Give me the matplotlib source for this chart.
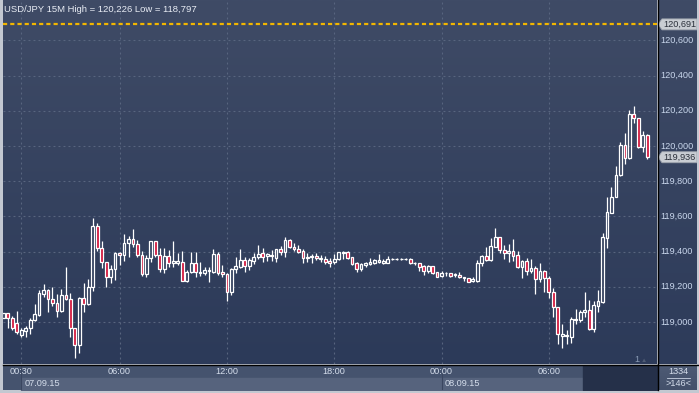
import numpy as np
import matplotlib
matplotlib.use("Agg")
import matplotlib.pyplot as plt
from matplotlib.colors import LinearSegmentedColormap
from matplotlib.lines import Line2D
from matplotlib.patches import Polygon

# ---------------------------------------------------------
# DATA  (USD/JPY, 15 minute candles, 07.09.15 - 08.09.15)
# ---------------------------------------------------------

opens = [
    119.021, 119.049, 119.021, 118.992, 118.926, 118.951, 118.964, 119.011, 119.040, 119.159,
    119.182, 119.129, 119.106, 119.064, 119.153, 119.131, 118.964, 118.869, 119.134, 119.100,
    119.197, 119.545, 119.422, 119.343, 119.254, 119.299, 119.390, 119.381, 119.447, 119.471,
    119.441, 119.381, 119.273, 119.362, 119.460, 119.381, 119.299, 119.375, 119.333, 119.337,
    119.341, 119.235, 119.282, 119.333, 119.276, 119.276, 119.290, 119.286, 119.386, 119.282,
    119.271, 119.172, 119.299, 119.314, 119.352, 119.320, 119.348, 119.367, 119.390, 119.375,
    119.375, 119.365, 119.415, 119.396, 119.466, 119.428, 119.415, 119.403, 119.362, 119.367,
    119.375, 119.356, 119.358, 119.348, 119.339, 119.358, 119.394, 119.396, 119.367, 119.337,
    119.301, 119.324, 119.329, 119.337, 119.343, 119.337, 119.337, 119.358, 119.358, 119.358,
    119.358, 119.358, 119.333, 119.333, 119.318, 119.292, 119.318, 119.286, 119.261, 119.276,
    119.276, 119.267, 119.267, 119.248, 119.248, 119.233, 119.233, 119.333, 119.375, 119.352,
    119.428, 119.485, 119.409, 119.394, 119.403, 119.381, 119.311, 119.347, 119.290, 119.305,
    119.242, 119.290, 119.248, 119.169, 119.083, 118.922, 118.920, 118.917, 119.011, 119.011,
    119.055, 119.068, 118.958, 119.093, 119.116, 119.479, 119.621, 119.712, 119.835, 120.006,
    119.930, 120.182, 120.157, 119.992, 120.062,
]

highs = [
    119.049, 119.049, 119.034, 119.062, 118.968, 118.977, 119.021, 119.102, 119.182, 119.216,
    119.185, 119.197, 119.157, 119.187, 119.314, 119.166, 118.964, 119.144, 119.223, 119.244,
    119.589, 119.564, 119.462, 119.343, 119.324, 119.399, 119.399, 119.500, 119.488, 119.528,
    119.466, 119.405, 119.381, 119.460, 119.460, 119.418, 119.418, 119.409, 119.462, 119.390,
    119.403, 119.295, 119.396, 119.396, 119.339, 119.314, 119.314, 119.413, 119.400, 119.324,
    119.276, 119.305, 119.367, 119.415, 119.367, 119.365, 119.390, 119.438, 119.422, 119.394,
    119.409, 119.415, 119.432, 119.481, 119.472, 119.447, 119.438, 119.413, 119.394, 119.386,
    119.390, 119.381, 119.377, 119.362, 119.386, 119.400, 119.403, 119.405, 119.367, 119.343,
    119.333, 119.343, 119.362, 119.358, 119.386, 119.356, 119.375, 119.362, 119.365, 119.362,
    119.362, 119.362, 119.343, 119.337, 119.324, 119.324, 119.318, 119.286, 119.292, 119.286,
    119.280, 119.280, 119.282, 119.254, 119.248, 119.258, 119.352, 119.381, 119.424, 119.475,
    119.532, 119.485, 119.438, 119.443, 119.472, 119.403, 119.352, 119.362, 119.358, 119.318,
    119.337, 119.295, 119.261, 119.191, 119.083, 118.989, 118.955, 119.030, 119.074, 119.068,
    119.172, 119.125, 119.119, 119.182, 119.504, 119.712, 119.769, 119.886, 120.021, 120.076,
    120.204, 120.226, 120.157, 120.087, 120.068,
]

lows = [
    119.021, 118.968, 118.954, 118.932, 118.913, 118.916, 118.932, 119.007, 119.034, 119.144,
    119.055, 119.091, 119.030, 119.059, 119.125, 118.916, 118.797, 118.822, 119.055, 119.096,
    119.178, 119.405, 119.305, 119.201, 119.223, 119.238, 119.324, 119.348, 119.371, 119.428,
    119.367, 119.261, 119.254, 119.343, 119.371, 119.286, 119.280, 119.314, 119.314, 119.324,
    119.235, 119.227, 119.276, 119.254, 119.261, 119.267, 119.229, 119.280, 119.267, 119.254,
    119.121, 119.153, 119.276, 119.309, 119.286, 119.295, 119.329, 119.356, 119.339, 119.348,
    119.347, 119.343, 119.381, 119.371, 119.418, 119.405, 119.394, 119.333, 119.343, 119.337,
    119.352, 119.343, 119.328, 119.314, 119.329, 119.352, 119.358, 119.358, 119.324, 119.286,
    119.292, 119.314, 119.324, 119.328, 119.333, 119.328, 119.333, 119.352, 119.352, 119.352,
    119.352, 119.329, 119.324, 119.292, 119.267, 119.280, 119.273, 119.254, 119.254, 119.261,
    119.258, 119.258, 119.248, 119.233, 119.229, 119.225, 119.229, 119.320, 119.348, 119.348,
    119.424, 119.394, 119.358, 119.339, 119.348, 119.305, 119.248, 119.267, 119.277, 119.157,
    119.229, 119.172, 119.134, 119.030, 118.873, 118.850, 118.875, 118.879, 118.987, 118.998,
    119.027, 118.955, 118.941, 119.059, 119.110, 119.419, 119.617, 119.708, 119.831, 119.898,
    119.926, 120.132, 119.987, 119.968, 119.924,
]

closes = [
    119.049, 119.021, 118.968, 118.945, 118.954, 118.968, 119.011, 119.043, 119.163, 119.182,
    119.129, 119.106, 119.064, 119.153, 119.131, 118.964, 118.869, 119.134, 119.100, 119.197,
    119.545, 119.422, 119.343, 119.254, 119.299, 119.390, 119.379, 119.447, 119.471, 119.441,
    119.381, 119.273, 119.362, 119.460, 119.381, 119.299, 119.375, 119.333, 119.346, 119.346,
    119.235, 119.282, 119.333, 119.282, 119.286, 119.295, 119.295, 119.386, 119.280, 119.271,
    119.172, 119.299, 119.318, 119.352, 119.320, 119.352, 119.371, 119.386, 119.367, 119.386,
    119.381, 119.415, 119.396, 119.466, 119.428, 119.413, 119.400, 119.362, 119.371, 119.375,
    119.362, 119.365, 119.339, 119.337, 119.358, 119.396, 119.400, 119.365, 119.329, 119.301,
    119.329, 119.337, 119.343, 119.352, 119.352, 119.348, 119.358, 119.358, 119.358, 119.358,
    119.356, 119.333, 119.337, 119.314, 119.292, 119.318, 119.280, 119.258, 119.280, 119.280,
    119.263, 119.273, 119.254, 119.254, 119.229, 119.242, 119.337, 119.375, 119.352, 119.432,
    119.485, 119.409, 119.394, 119.403, 119.375, 119.310, 119.347, 119.290, 119.305, 119.242,
    119.290, 119.248, 119.169, 119.083, 118.930, 118.932, 118.926, 119.015, 119.017, 119.059,
    119.068, 118.958, 119.097, 119.119, 119.481, 119.623, 119.712, 119.835, 120.006, 119.930,
    120.182, 120.157, 119.992, 120.062, 119.936,
]

price_levels = [119.0, 119.2, 119.4, 119.6, 119.8, 120.0, 120.2, 120.4, 120.6]
price_labels = ["119,000", "119,200", "119,400", "119,600", "119,800",
                "120,000", "120,200", "120,400", "120,600"]

# bar number of each time label (bar 1 = 23:30 on 06.09)
time_idx = [5, 27, 51, 75, 99, 123]
time_labels = ["00:30", "06:00", "12:00", "18:00", "00:00", "06:00"]

date_idx = [5, 99]
date_labels = ["07.09.15", "08.09.15"]

level_line = 120.691
last_price = 119.936
title = "USD/JPY 15M High = 120,226 Low = 118,797"

# ---------------------------------------------------------
# LAYOUT HELPERS
# ---------------------------------------------------------

plt.rcParams["font.family"] = ["Liberation Sans", "DejaVu Sans"]
plt.rcParams["lines.scale_dashes"] = False

W, H = 699, 393


def box(x0, y0, x1, y1):
    return [x0 / W, 1 - y1 / H, (x1 - x0) / W, (y1 - y0) / H]


def gradient(ax, top, bottom):
    cmap = LinearSegmentedColormap.from_list("bg", [bottom, top])
    ax.imshow(
        np.linspace(0, 1, 256).reshape(-1, 1),
        cmap=cmap,
        origin="lower",
        aspect="auto",
        extent=(0, 1, 0, 1),
        transform=ax.transAxes,
        zorder=0,
    )


fig = plt.figure(figsize=(W / 100, H / 100), dpi=100, facecolor="#c3c8d1")

x = np.arange(1, len(opens) + 1)
o = np.array(opens)
h = np.array(highs)
l = np.array(lows)
c = np.array(closes)

XLIM = (0.933, 147.18)
YLIM = (118.761, 120.8295)

# ---------------------------------------------------------
# MAIN PLOT
# ---------------------------------------------------------

ax = fig.add_axes(box(3, 0, 657, 364))
ax.set_axis_off()
gradient(ax, "#3f4b66", "#2c3a59")

grid_kw = dict(color="#58657f", lw=0.8, dashes=(1.4, 2.2), zorder=1)
for v in price_levels:
    ax.axhline(v, **grid_kw)
for k in time_idx:
    ax.axvline(k, **grid_kw)

ax.axhline(level_line, color="#f2b600", lw=1.6, dashes=(3, 2.2), zorder=2)

top = np.maximum(o, c)
bot = np.minimum(o, c)
up = c >= o

ax.vlines(x, top, h, color="white", lw=0.9, zorder=3)
ax.vlines(x, l, bot, color="white", lw=0.9, zorder=3)
ax.bar(
    x,
    top - bot,
    bottom=bot,
    width=0.62,
    color=["none" if u else "#d2143a" for u in up],
    edgecolor="white",
    linewidth=0.9,
    zorder=4,
)

ax.set_xlim(*XLIM)
ax.set_ylim(*YLIM)

fig.text(4 / W, 1 - 9 / H, title, fontsize=6.8, color="#e8ecf4", va="center")

fig.text(637 / W, 1 - 359.5 / H, "1", fontsize=6.6, color="#8a9ab4",
         ha="center", va="center")
fig.text(644 / W, 1 - 360 / H, "\u25b2", fontsize=4.5, color="#4f5b74",
         ha="center", va="center")

# ---------------------------------------------------------
# RIGHT PRICE SCALE
# ---------------------------------------------------------

axr = fig.add_axes(box(658, 0, 697, 364))
axr.set_axis_off()
gradient(axr, "#3f4b66", "#2d3b5a")
axr.set_xlim(658, 697)
axr.set_ylim(*YLIM)

for v, s in zip(price_levels, price_labels):
    axr.text(660, v, s, fontsize=6.6, color="#c9d6ec", va="center", ha="left")

half = 5.5 / 176
for v in [level_line, last_price]:
    axr.add_patch(Polygon(
        [(658, v), (662, v + half), (697, v + half), (697, v - half), (662, v - half)],
        closed=True, facecolor="#c9cdd3", edgecolor="#9ca2ac", lw=0.6, zorder=3,
    ))
    axr.text(663, v, f"{v:.3f}".replace(".", ","), fontsize=6.6,
             color="#2a2f3a", va="center", ha="left", zorder=4)

# ---------------------------------------------------------
# TIME AXIS
# ---------------------------------------------------------

axb = fig.add_axes(box(3, 365, 657, 390))
axb.set_axis_off()
axb.set_xlim(*XLIM)
axb.set_ylim(0, 25)

dark_start = 130.6
axb.axhspan(12, 25, color="#45536e", zorder=0)
axb.axhspan(0, 12, color="#45536e", zorder=0)
axb.fill_between([date_idx[0], date_idx[1]], 0, 12, color="#56637d", zorder=1)
axb.fill_between([date_idx[1], dark_start], 0, 12, color="#56637d", zorder=1)
axb.fill_between([dark_start, XLIM[1]], 0, 25, color="#253049", zorder=2)
for k in date_idx:
    axb.axvline(k, color="#3a4660", lw=0.8, zorder=2)

for k, s in zip(time_idx, time_labels):
    axb.text(k, 18.5, s, fontsize=6.6, color="#d4ddeb", ha="center", va="center", zorder=3)
for k, s in zip(date_idx, date_labels):
    axb.text(k + 0.8, 6.5, s, fontsize=6.6, color="#d4ddeb", ha="left", va="center", zorder=3)

# bottom-right counter box
axc = fig.add_axes(box(658, 365, 697, 390))
axc.set_axis_off()
gradient(axc, "#4d5a74", "#44516b")
fig.text(678 / W, 1 - 371.5 / H, "1334", fontsize=6.6, color="#d4ddeb", ha="center", va="center")
fig.text(678 / W, 1 - 383.5 / H, ">146<", fontsize=6.6, color="#d4ddeb", ha="center", va="center")
fig.add_artist(Line2D([667 / W, 690 / W], [1 - 378 / H] * 2, color="#c8d2e2", lw=0.6,
                      transform=fig.transFigure))

# separators
fig.add_artist(Line2D([3 / W, 699 / W], [1 - 364.5 / H] * 2, color="black", lw=1.0,
                      transform=fig.transFigure))
fig.add_artist(Line2D([657.5 / W] * 2, [1 - 390 / H, 1], color="black", lw=1.0,
                      transform=fig.transFigure))

fig.savefig("out.png", dpi=100, facecolor=fig.get_facecolor())
